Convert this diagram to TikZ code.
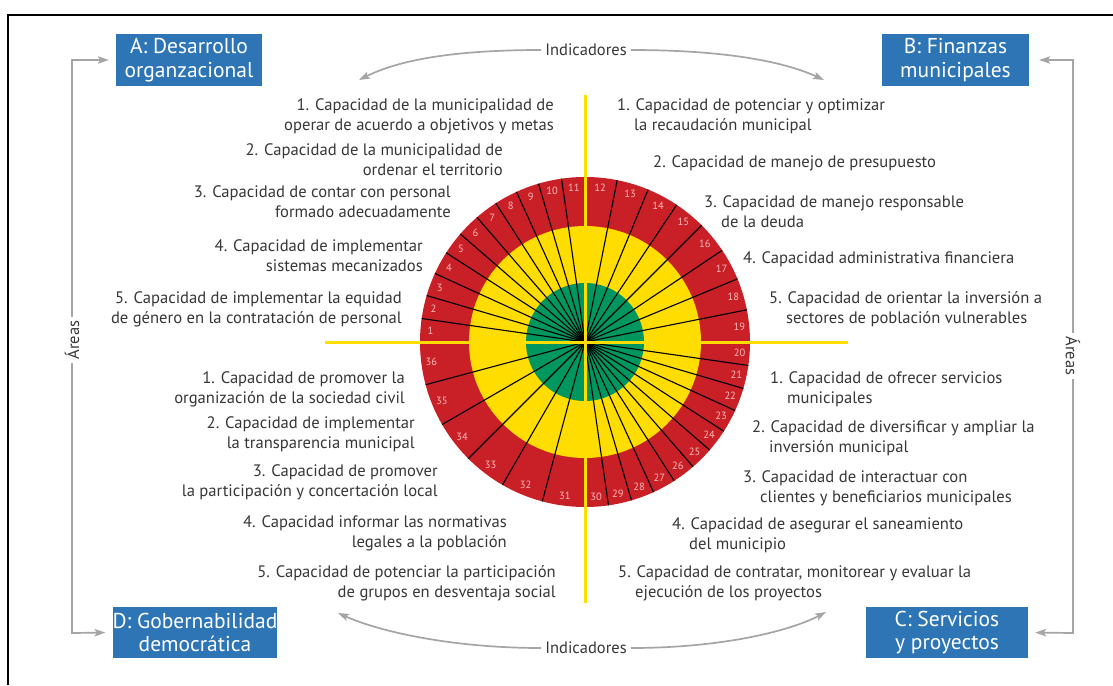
\documentclass[tikz,border=0pt]{standalone}
\usepackage{fontspec}
\setmainfont{PT Sans}
\usetikzlibrary{arrows.meta,calc}

\definecolor{wred}{RGB}{200,32,38}
\definecolor{wyellow}{RGB}{255,221,0}
\definecolor{wgreen}{RGB}{0,150,95}
\definecolor{boxblue}{RGB}{46,117,182}
\definecolor{txtgray}{RGB}{55,55,55}
\definecolor{conngray}{RGB}{165,165,165}
\definecolor{numpink}{RGB}{245,185,185}

\tikzset{
  item/.style={font=\fontsize{16.6}{20}\selectfont, text=txtgray, inner sep=0pt},
  itemL/.style={item, align=right, anchor=base east},
  itemR/.style={item, align=left, anchor=base west},
  area/.style={fill=boxblue, text=white, font=\fontsize{21.5}{23.5}\selectfont,
    align=center, inner sep=0pt},
  gtip/.tip={Stealth[length=11pt,width=7.5pt,inset=2.5pt]},
  gconn/.style={draw=conngray, line width=1.7pt, arrows={-gtip}},
  gboth/.style={draw=conngray, line width=1.7pt, arrows={gtip-gtip}},
  spoke/.style={draw=black, line width=1.1pt},
  cross/.style={draw=wyellow, line width=3pt},
  segnum/.style={font=\fontsize{10.5}{11}\selectfont, text=numpink, inner sep=0pt},
  tag/.style={font=\fontsize{16.5}{18}\selectfont, text=txtgray, inner sep=4pt, fill=white},
}
\newcommand{\hang}{\hphantom{1.\ }}

\begin{document}
\begin{tikzpicture}[x=1pt,y=-1pt]
\useasboundingbox (0,0) rectangle (1113,685);
\fill[white] (0,0) rectangle (1113,685);

% page frame
\draw[line width=2pt] (8,685) -- (8,15) -- (1113,15);

% ---------------- wheel ----------------
\coordinate (c) at (585,342);
\fill[wred] (c) circle[radius=165pt];
\fill[wyellow] (c) circle[radius=116pt];
\fill[wgreen] (c) circle[radius=59pt];

% spokes: 11 + 8 + 11 + 6 segments per quadrant
\foreach \k in {1,...,10} {
  \draw[spoke] (c) -- ++({180-\k*90/11}:165pt);
  \draw[spoke] (c) -- ++({-\k*90/11}:165pt);
}
\foreach \k in {1,...,7} \draw[spoke] (c) -- ++({90-\k*11.25}:165pt);
\foreach \k in {1,...,5} \draw[spoke] (c) -- ++({-90-\k*15}:165pt);

% segment numbers
\foreach \n in {1,...,11}
  \node[segnum] (s\n) at ($(c)+({180-(\n-0.5)*90/11}:155pt)$) {\n};
\foreach \n in {12,...,19}
  \node[segnum] (s\n) at ($(c)+({90-(\n-11.5)*11.25}:155pt)$) {\n};
\foreach \n in {20,...,30}
  \node[segnum] (s\n) at ($(c)+({-(\n-19.5)*90/11}:155pt)$) {\n};
\foreach \n in {31,...,36}
  \node[segnum] (s\n) at ($(c)+({-90-(\n-30.5)*15}:155pt)$) {\n};

% quadrant axes
\draw[cross] (325,342) -- (848,342);
\draw[cross] (585,95) -- (585,603);

% ---------------- area boxes ----------------
\node[area, minimum width=146pt, minimum height=52pt] (A) at (189,60) {A: Desarrollo\\organzacional};
\node[area, minimum width=147pt, minimum height=52pt] (B) at (955.5,60) {B: Finanzas\\municipales};
\node[area, minimum width=162pt, minimum height=51pt] (D) at (195,632.5) {D: Gobernabilidad\\democrática};
\node[area, minimum width=162pt, minimum height=51pt] (C) at (947,632.5) {C: Servicios\\y proyectos};

% ---------------- side connectors ----------------
\coordinate (la) at (72,60);
\coordinate (ld) at (72,633);
\draw[gboth, shorten <=7pt, shorten >=7pt] (A.west) -- (la) -- (ld) -- (D.west);
\node[tag, rotate=90] (arL) at (72,340) {Áreas};

\coordinate (rb) at (1073,60);
\coordinate (rc) at (1073,633);
\draw[gboth, shorten <=10pt, shorten >=7pt] (B.east) -- (rb) -- (rc) -- (C.east);
\node[tag, rotate=-90] (arR) at (1073,356) {Áreas};

% ---------------- indicator arcs ----------------
\node[tag] (it) at (586,50) {Indicadores};
\coordinate (tA) at (359,80);
\coordinate (tB) at (824,80);
\draw[gconn] (it.west) .. controls (445,50) and (395,62) .. (tA);
\draw[gconn] (it.east) .. controls (727,50) and (785,62) .. (tB);

\node[tag] (ib) at (586,648) {Indicadores};
\coordinate (tD) at (338,613);
\coordinate (tC) at (826,612);
\draw[gconn] (ib.west) .. controls (450,648) and (378,631) .. (tD);
\draw[gconn] (ib.east) .. controls (722,648) and (790,631) .. (tC);

% ---------------- indicator texts ----------------
\node[itemL] (a1) at (554,130) {1. Capacidad de la municipalidad de\\operar de acuerdo a objetivos y metas};
\node[itemL] (a2) at (503,175) {2. Capacidad de la municipalidad de\\ordenar el territorio};
\node[itemL] (a3) at (451,217) {3. Capacidad de contar con personal\\formado adecuadamente};
\node[itemL] (a4) at (423,271) {4. Capacidad de implementar\\sistemas mecanizados};
\node[itemL] (a5) at (402,323) {5. Capacidad de implementar la equidad\\de género en la contratación de personal};

\node[itemR] (b1) at (617,130) {1. Capacidad de potenciar y optimizar\\\hang la recaudación municipal};
\node[itemR] (b2) at (653,167) {2. Capacidad de manejo de presupuesto};
\node[itemR] (b3) at (704,227) {3. Capacidad de manejo responsable\\\hang de la deuda};
\node[itemR] (b4) at (743,263) {4. Capacidad administrativa financiera};
\node[itemR] (b5) at (769,323) {5. Capacidad de orientar la inversión a\\\hang sectores de población vulnerables};

\node[itemR] (c1) at (770,403) {1. Capacidad de ofrecer servicios\\\hang municipales};
\node[itemR] (c2) at (752,452) {2. Capacidad de diversificar y ampliar la\\\hang inversión municipal};
\node[itemR] (c3) at (743,502) {3. Capacidad de interactuar con\\\hang clientes y beneficiarios municipales};
\node[itemR] (c4) at (672,549) {4. Capacidad de asegurar el saneamiento\\\hang del municipio};
\node[itemR] (c5) at (618,597) {5. Capacidad de contratar, monitorear y evaluar la\\\hang ejecución de los proyectos};

\node[itemL] (d1) at (405,403) {1. Capacidad de promover la\\organización de la sociedad civil};
\node[itemL] (d2) at (415,448) {2. Capacidad de implementar\\la transparencia municipal};
\node[itemL] (d3) at (438,496) {3. Capacidad de promover\\la participación y concertación local};
\node[itemL] (d4) at (507,547) {4. Capacidad informar las normativas\\legales a la población};
\node[itemL] (d5) at (556,597) {5. Capacidad de potenciar la participación\\de grupos en desventaja social};
\end{tikzpicture}
\end{document}
